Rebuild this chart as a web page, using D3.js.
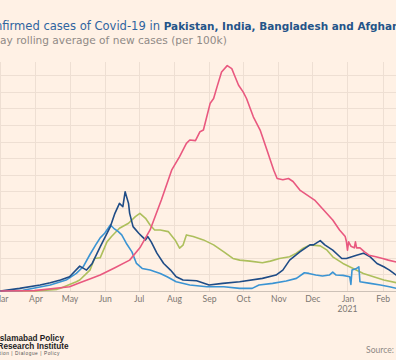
<!DOCTYPE html>
<html>
<head>
<meta charset="utf-8">
<script src="https://cdn.jsdelivr.net/npm/d3@7"></script>
<style>
  html, body { margin: 0; padding: 0; background: #fff1e5; }
  svg { display: block; }
</style>
</head>
<body>
<svg id="chart" width="396" height="360"></svg>
<script>
// ---- data (7-day rolling average of new cases per 100k) ----
const monthTicks = ["2020-03-01","2020-04-01","2020-05-01","2020-06-01","2020-07-01","2020-08-01","2020-09-01","2020-10-01","2020-11-01","2020-12-01","2021-01-01","2021-02-01"];
const monthLabels = ["Mar","Apr","May","Jun","Jul","Aug","Sep","Oct","Nov","Dec","Jan","Feb"];
const yGridValues = [0,0.5,1,1.5,2,2.5,3,3.5,4,4.5,5,5.5,6,6.5];

const indiaDates = ["2020-03-01","2020-03-31","2020-05-01","2020-05-10","2020-05-20","2020-05-28","2020-06-10","2020-06-23","2020-07-02","2020-07-11","2020-07-21","2020-07-30","2020-08-06","2020-08-12","2020-08-15","2020-08-20","2020-08-24","2020-08-27","2020-09-02","2020-09-05","2020-09-08","2020-09-12","2020-09-17","2020-09-21","2020-09-24","2020-09-27","2020-10-01","2020-10-04","2020-10-10","2020-10-16","2020-10-22","2020-10-28","2020-10-31","2020-11-05","2020-11-10","2020-11-14","2020-11-20","2020-12-03","2020-12-11","2020-12-19","2020-12-25","2020-12-30","2020-12-31","2021-01-01","2021-01-02","2021-01-04","2021-01-07","2021-01-08","2021-01-09","2021-01-12","2021-01-16","2021-01-20","2021-01-26","2021-02-01","2021-02-06","2021-02-12","2021-02-20"];
const indiaValues = [0,0.01,0.13,0.25,0.38,0.48,0.7,0.93,1.3,1.84,2.75,3.64,4.05,4.45,4.55,4.53,4.8,4.85,5.66,5.8,6.15,6.6,6.79,6.7,6.45,6.2,6.0,5.8,5.25,4.85,4.25,3.64,3.39,3.35,3.39,3.3,3.04,2.74,2.44,2.14,1.84,1.64,1.5,1.23,1.48,1.35,1.3,1.48,1.3,1.3,1.18,1.08,1.03,0.98,0.93,0.88,0.85];

const pakistanDates = ["2020-03-01","2020-03-18","2020-04-05","2020-04-14","2020-04-23","2020-05-01","2020-05-10","2020-05-16","2020-05-21","2020-05-28","2020-06-06","2020-06-10","2020-06-14","2020-06-17","2020-06-19","2020-06-22","2020-06-23","2020-06-26","2020-07-01","2020-07-04","2020-07-07","2020-07-09","2020-07-12","2020-07-17","2020-07-23","2020-07-29","2020-08-03","2020-08-09","2020-08-21","2020-09-01","2020-09-13","2020-09-28","2020-10-18","2020-10-30","2020-11-05","2020-11-11","2020-11-20","2020-11-29","2020-12-02","2020-12-08","2020-12-12","2020-12-19","2020-12-27","2020-12-31","2021-01-09","2021-01-15","2021-01-21","2021-01-27","2021-02-02","2021-02-07","2021-02-13","2021-02-20"];
const pakistanValues = [0,0.08,0.18,0.25,0.33,0.43,0.75,0.63,0.83,1.33,1.94,2.34,2.64,2.54,2.99,2.64,2.34,1.94,1.74,1.64,1.54,1.64,1.48,1.14,0.83,0.63,0.43,0.33,0.31,0.18,0.23,0.28,0.38,0.48,0.63,0.93,1.18,1.39,1.39,1.52,1.39,1.23,0.98,0.98,1.08,1.14,1.03,0.83,0.73,0.63,0.48,0.4];

const bangladeshDates = ["2020-03-01","2020-04-01","2020-04-20","2020-04-23","2020-05-07","2020-05-10","2020-05-16","2020-05-19","2020-05-23","2020-05-28","2020-06-03","2020-06-07","2020-06-14","2020-06-22","2020-06-28","2020-07-02","2020-07-07","2020-07-11","2020-07-15","2020-07-20","2020-07-27","2020-08-02","2020-08-06","2020-08-09","2020-08-12","2020-08-18","2020-08-27","2020-09-05","2020-09-14","2020-09-22","2020-09-28","2020-10-07","2020-10-18","2020-10-25","2020-11-02","2020-11-11","2020-11-17","2020-11-23","2020-11-29","2020-12-08","2020-12-14","2020-12-19","2020-12-28","2021-01-06","2021-01-15","2021-01-24","2021-02-02","2021-02-13","2021-02-20"];
const bangladeshValues = [0,0,0.05,0.08,0.28,0.33,0.53,0.63,0.98,1.0,1.48,1.64,1.89,2.04,2.24,2.34,2.19,1.99,1.84,1.84,1.79,1.54,1.29,1.38,1.69,1.64,1.54,1.39,1.18,0.98,0.93,0.9,0.85,0.9,0.98,1.03,1.14,1.29,1.39,1.36,1.23,1.03,0.83,0.68,0.53,0.43,0.33,0.25,0.22];

const afghanistanDates = ["2020-03-01","2020-03-21","2020-04-14","2020-04-28","2020-05-07","2020-05-13","2020-05-19","2020-05-25","2020-05-28","2020-06-01","2020-06-06","2020-06-09","2020-06-13","2020-06-16","2020-06-20","2020-06-25","2020-06-29","2020-07-04","2020-07-11","2020-07-20","2020-07-26","2020-08-03","2020-08-15","2020-08-30","2020-09-14","2020-09-28","2020-10-09","2020-10-15","2020-10-27","2020-11-08","2020-11-17","2020-11-24","2020-11-28","2020-12-04","2020-12-10","2020-12-16","2020-12-19","2020-12-22","2020-12-28","2021-01-03","2021-01-04","2021-01-05","2021-01-09","2021-01-11","2021-01-12","2021-01-21","2021-01-30","2021-02-07","2021-02-13","2021-02-20"];
const afghanistanValues = [0,0.02,0.18,0.33,0.53,0.73,1.1,1.44,1.6,1.74,1.99,1.89,1.79,1.69,1.44,1.18,0.83,0.68,0.63,0.53,0.43,0.28,0.18,0.13,0.13,0.08,0.08,0.18,0.23,0.3,0.38,0.55,0.53,0.48,0.45,0.48,0.57,0.48,0.47,0.43,0.2,0.63,0.68,0.73,0.28,0.23,0.18,0.13,0.08,0.06];

const seriesNames = ["Bangladesh","Afghanistan","Pakistan","India"];
const seriesColors = ["#adbf5c","#3b94d3","#1f4c86","#e9587f"];

// ---- build ----
const parse = d3.timeParse("%Y-%m-%d");
const zip = (ds, vs) => ds.map((d, i) => ({date: parse(d), value: vs[i]}));
const series = [
  zip(bangladeshDates, bangladeshValues),
  zip(afghanistanDates, afghanistanValues),
  zip(pakistanDates, pakistanValues),
  zip(indiaDates, indiaValues)
];

const svg = d3.select("#chart");
const W = 396, H = 360;
svg.append("rect").attr("width", W).attr("height", H).attr("fill", "#fff1e5");

const plotTop = 62, plotBottom = 291;
const x = d3.scaleTime()
  .domain([parse("2020-03-01"), parse("2021-03-01")])
  .range([0.33, 0.33 + 365 * 1.1345]);
const y = d3.scaleLinear().domain([0, 6.9]).range([plotBottom, plotTop]);

// gridlines
const g = svg.append("g");
g.selectAll(".hg").data(yGridValues.filter(v => v > 0)).join("line")
  .attr("x1", 0).attr("x2", W)
  .attr("y1", d => Math.round(y(d)) + 0.5).attr("y2", d => Math.round(y(d)) + 0.5)
  .attr("stroke", "#eedfd3").attr("stroke-width", 1);
g.selectAll(".vg").data(monthTicks.map(parse)).join("line")
  .attr("x1", d => Math.round(x(d)) + 0.5).attr("x2", d => Math.round(x(d)) + 0.5)
  .attr("y1", plotTop).attr("y2", plotBottom)
  .attr("stroke", "#eedfd3").attr("stroke-width", 1);

// x axis
const axisFont = "Lato, 'Open Sans', sans-serif";
const xAxis = d3.axisBottom(x)
  .tickValues(monthTicks.map(parse))
  .tickFormat((d, i) => monthLabels[i])
  .tickSize(0).tickPadding(5);
const ax = svg.append("g").attr("transform", `translate(0,${plotBottom})`).call(xAxis);
ax.select(".domain").attr("stroke", "#cdc1b7").attr("stroke-width", 1.2);
ax.selectAll("text").attr("fill", "#7d7772").attr("font-family", axisFont).attr("font-size", 8.6);
svg.append("text").attr("x", x(parse("2021-01-01"))).attr("y", 312)
  .attr("text-anchor", "middle").attr("fill", "#7d7772")
  .attr("font-family", axisFont).attr("font-size", 8.6).text("2021");

// lines
const line = d3.line().x(d => x(d.date)).y(d => y(d.value)).curve(d3.curveLinear);
svg.selectAll(".series").data(series).join("path")
  .attr("d", line).attr("fill", "none")
  .attr("stroke", (d, i) => seriesColors[i])
  .attr("stroke-width", 1.6).attr("stroke-linejoin", "round");

// helper: measure text width
function measure(str, size, weight, family) {
  const t = svg.append("text").attr("font-size", size).attr("font-weight", weight)
    .attr("font-family", family).text(str);
  const w = t.node().getComputedTextLength();
  t.remove();
  return w;
}

// title (cropped at both edges, as in the reference)
const titleFont = "'DejaVu Sans', 'Open Sans', sans-serif";
const regPart = "Confirmed cases of Covid-19 in ";
const boldPart = "Pakistan, India, Bangladesh and Afghanistan";
// regular part sized so that "firmed cases of Covid-19 in " spans ~158px
let rs = 11 * 158 / measure("firmed cases of Covid-19 in ", 11, "normal", titleFont);
let bs = 11 * 236 / measure("Pakistan, India, Bangladesh and Afghan", 11, "bold", titleFont);
const regW = measure(regPart, rs, "normal", titleFont);
const title = svg.append("text").attr("x", 160 - regW).attr("y", 29.5)
  .attr("font-family", titleFont).attr("fill", "#2f64a0");
title.append("tspan").attr("font-size", rs).text(regPart);
title.append("tspan").attr("font-size", bs).attr("font-weight", "bold").attr("fill", "#245489").text(boldPart);

const subFont = "'DejaVu Sans', 'Open Sans', sans-serif";
const subText = "7-day rolling average of new cases (per 100k)";
let ss = 10 * 227 / measure("ay rolling average of new cases (per 100k)", 10, "normal", subFont);
const subW = measure(subText, ss, "normal", subFont);
const subVisW = measure("ay rolling average of new cases (per 100k)", ss, "normal", subFont);
svg.append("text").attr("x", -(subW - subVisW)).attr("y", 44)
  .attr("font-family", subFont).attr("font-size", ss).attr("fill", "#8f8a85")
  .text(subText);

// logo text
const logoFont = "'Liberation Sans', Arial, sans-serif";
svg.append("text").attr("x", -2.5).attr("y", 341)
  .attr("font-family", logoFont).attr("font-weight", "bold")
  .attr("font-size", 8.2).attr("fill", "#1e1e1e").text("Islamabad Policy");
svg.append("text").attr("x", -2.5).attr("y", 348.5)
  .attr("font-family", logoFont).attr("font-weight", "bold")
  .attr("font-size", 8.2).attr("fill", "#1e1e1e").text("Research Institute");
svg.append("text").attr("x", 60).attr("y", 354.5).attr("text-anchor", "end")
  .attr("font-family", logoFont)
  .attr("font-size", 4.8).attr("letter-spacing", 0.55).attr("fill", "#555").text("Action | Dialogue | Policy");

// source
svg.append("text").attr("x", 366).attr("y", 353)
  .attr("font-family", axisFont).attr("font-size", 8.6).attr("fill", "#8f8a85")
  .text("Source: FT analysis");
</script>
</body>
</html>
